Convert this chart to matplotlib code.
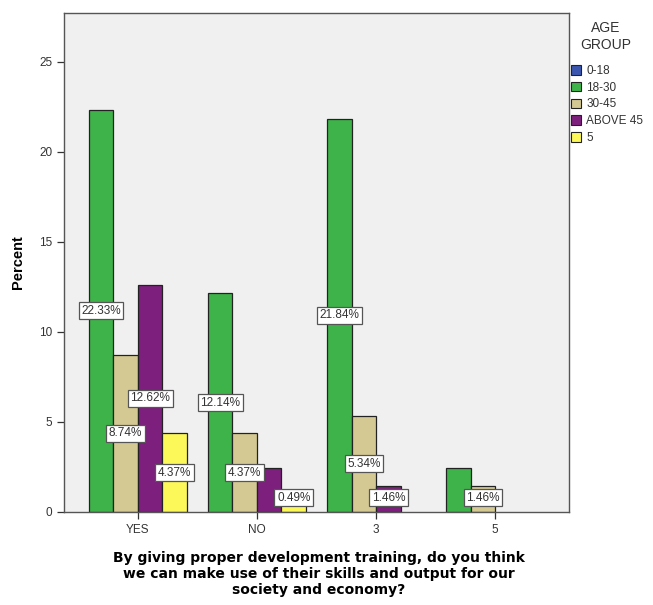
import matplotlib.pyplot as plt
from matplotlib.patches import Patch
import numpy as np

plt.rcParams['font.family'] = ['Liberation Sans', 'DejaVu Sans']

# answers on the x axis
categories = ["YES", "NO", "3", "5"]

# age groups (legend) and their percentages per answer
groups = ["0-18", "18-30", "30-45", "ABOVE 45", "5"]
pct_0_18 = [0, 0, 0, 0]
pct_18_30 = [22.33, 12.14, 21.84, 2.43]
pct_30_45 = [8.74, 4.37, 5.34, 1.46]
pct_above_45 = [12.62, 2.43, 1.46, 0]
pct_5 = [4.37, 0.49, 0, 0]

# which bars carry a value label (some are hidden where labels would collide)
show_18_30 = [True, True, True, False]
show_30_45 = [True, True, True, True]
show_above_45 = [True, False, True, False]
show_5 = [True, True, False, False]

colors = ["#3A55B0", "#3DB34A", "#D4C993", "#7D1F7D", "#FCF85A"]

W, H = 653, 605
fig = plt.figure(figsize=(W / 100, H / 100), dpi=100)
ax = fig.add_axes([64 / W, 1 - 512 / H, (569 - 64) / W, (512 - 13) / H])
ax.set_facecolor("#F0F0F0")

x = np.arange(len(categories))
w = 24.5 / 119

# 0-18 has no respondents, so only four bars per cluster are drawn
series = [(pct_18_30, show_18_30, colors[1]),
          (pct_30_45, show_30_45, colors[2]),
          (pct_above_45, show_above_45, colors[3]),
          (pct_5, show_5, colors[4])]

for i, (vals, shows, col) in enumerate(series):
    pos = x + (i - 1.5) * w
    for p, v, s in zip(pos, vals, shows):
        if v <= 0:
            continue
        ax.bar(p, v, width=w, color=col, edgecolor="#222222", linewidth=0.9, zorder=2)
        if s:
            ax.text(p, max(v / 2, 0.8), f"{v:.2f}%", ha="center", va="center",
                    fontsize=8.5, color="#333333", zorder=4,
                    bbox=dict(boxstyle="square,pad=0.22", fc="white", ec="#555555", lw=0.9))

ax.set_xlim(-0.62, 3.62)
ax.set_ylim(0, 27.7)
ax.set_yticks([0, 5, 10, 15, 20, 25])
ax.set_xticks(x)
ax.set_xticklabels(categories)
ax.tick_params(axis="both", labelsize=8.5, colors="#333333", length=5, width=0.9)
for s in ax.spines.values():
    s.set_color("#555555")
    s.set_linewidth(1)

ax.set_ylabel("Percent", fontsize=10.5, fontweight="bold", labelpad=10)
fig.text(319 / W, 1 - 551 / H,
         "By giving proper development training, do you think\n"
         "we can make use of their skills and output for our\n"
         "society and economy?",
         ha="center", va="top", fontsize=10, fontweight="bold",
         family="DejaVu Sans", linespacing=1.2)

# legend title sits above the swatches with a wider gap
fig.text(606 / W, 1 - 21 / H, "AGE\nGROUP", ha="center", va="top",
         fontsize=10, color="#333333", linespacing=1.25)
handles = [Patch(facecolor=c, edgecolor="#222222", linewidth=0.8) for c in colors]
leg = fig.legend(handles, groups, loc="upper left",
                 bbox_to_anchor=(571 / W, 1 - 65 / H), frameon=False,
                 fontsize=8.5, handlelength=0.85, handleheight=0.85,
                 handletextpad=0.45, labelspacing=0.4, borderaxespad=0, borderpad=0)
for t in leg.get_texts():
    t.set_color("#333333")

fig.savefig("out.png", dpi=100)
